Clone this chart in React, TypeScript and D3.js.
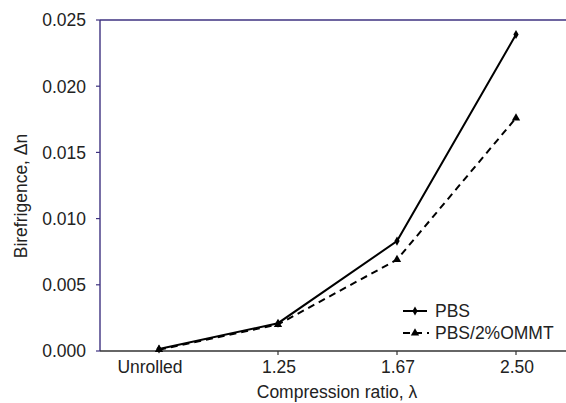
import React from "react";
import * as d3 from "d3";

const categories = ["Unrolled", "1.25", "1.67", "2.50"];
const pbs = [0.00015, 0.0021, 0.0083, 0.0239];
const ommt = [0.0001, 0.002, 0.0069, 0.0176];
const yTicks = [0, 0.005, 0.01, 0.015, 0.02, 0.025];

const W = 566, H = 403;
const left = 100, top = 20, bottom = 351;
const purple = "#3e3280";
const font = "Liberation Sans, Arial, Helvetica, sans-serif";
const fs = 17.5;

export default function App() {
  const x = d3.scalePoint<string>().domain(categories).range([159, 516]);
  const y = d3.scaleLinear().domain([0, 0.025]).range([bottom, top]);
  const line = d3
    .line<number>()
    .x((_, i) => x(categories[i]) as number)
    .y((d) => y(d));
  const diamond = d3.symbol().type(d3.symbolDiamond).size(24)()!;
  const tri = d3.symbol().type(d3.symbolTriangle).size(30)()!;

  return (
    <svg width={W} height={H} style={{ position: "absolute", left: 0, top: 0 }} fontFamily={font}>
      <rect width={W} height={H} fill="white" />
      {/* top border */}
      <line x1={left} x2={566} y1={top} y2={top} stroke={purple} strokeWidth={1.6} />
      {/* left axis */}
      <line x1={left} x2={left} y1={top} y2={bottom} stroke={purple} strokeWidth={1.4} />
      {yTicks.map((t) => (
        <g key={t}>
          <line x1={left - 4} x2={left} y1={y(t)} y2={y(t)} stroke={purple} strokeWidth={1.2} />
          <text x={left - 14} y={y(t)} dy="0.36em" textAnchor="end" fontSize={fs} fill="#222">
            {d3.format(".3f")(t)}
          </text>
        </g>
      ))}
      {/* bottom axis */}
      <line x1={left} x2={566} y1={bottom} y2={bottom} stroke="#333" strokeWidth={1.4} />
      {categories.map((c, i) => (
        <g key={c}>
          {i > 0 && (
            <line x1={x(c)} x2={x(c)} y1={bottom} y2={bottom + 4} stroke="#333" strokeWidth={1.2} />
          )}
          <text x={(x(c) as number) + (i === 0 ? -9 : 1)} y={373} textAnchor="middle" fontSize={fs} fill="#222">
            {c}
          </text>
        </g>
      ))}
      <text x={337} y={398} textAnchor="middle" fontSize={fs} fill="#222">
        Compression ratio, λ
      </text>
      <text
        transform={`translate(27,196) rotate(-90)`}
        textAnchor="middle"
        fontSize={fs}
        fill="#222"
      >
        Birefrigence, Δn
      </text>
      {/* series */}
      <path d={line(ommt)!} fill="none" stroke="#000" strokeWidth={2} strokeDasharray="7,5" />
      <path d={line(pbs)!} fill="none" stroke="#000" strokeWidth={2} />
      {pbs.map((v, i) => (
        <path key={"p" + i} d={diamond} transform={`translate(${x(categories[i])},${y(v)})`} fill="#000" />
      ))}
      {ommt.map((v, i) => (
        <path key={"o" + i} d={tri} transform={`translate(${x(categories[i])},${y(v)})`} fill="#000" />
      ))}
      {/* legend */}
      <g>
        <line x1={403} x2={427} y1={311} y2={311} stroke="#000" strokeWidth={2} />
        <path d={diamond} transform="translate(415,311)" fill="#000" />
        <text x={435} y={317} fontSize={fs} fill="#222">PBS</text>
        <line x1={403} x2={429} y1={333} y2={333} stroke="#000" strokeWidth={2} strokeDasharray="7,5" />
        <path d={tri} transform="translate(415,333)" fill="#000" />
        <text x={435} y={339} fontSize={fs} fill="#222">PBS/2%OMMT</text>
      </g>
    </svg>
  );
}
